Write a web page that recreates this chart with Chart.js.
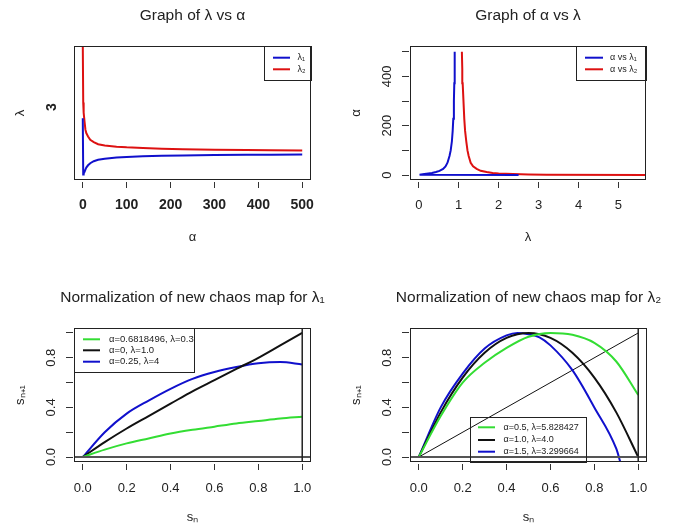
<!DOCTYPE html>
<html><head><meta charset="utf-8">
<script src="https://cdn.jsdelivr.net/npm/chart.js@4.4.1/dist/chart.umd.min.js"></script>
<style>
html,body{margin:0;padding:0;background:#fff;}
#wrap{position:relative;width:674px;height:526px;overflow:hidden;background:#fff;}
#wrap canvas{position:absolute;left:0;top:0;}
</style></head><body>
<div id="wrap">
<canvas id="c1" width="674" height="526"></canvas>
<canvas id="c2" width="674" height="526"></canvas>
<canvas id="c3" width="674" height="526"></canvas>
<canvas id="c4" width="674" height="526"></canvas>
</div>
<script>
// ---------- DATA ----------
// Top panels: lambda1 and lambda2 as functions of alpha
const alphaValues   = [0, 1, 2, 4, 6, 8, 12, 17, 25, 35, 50, 77, 100, 137, 180, 228, 300, 372, 430, 500];
const lambda1Values = [2.5, 0.02, 0.06, 0.14, 0.24, 0.33, 0.43, 0.52, 0.61, 0.67, 0.72, 0.77, 0.80, 0.83, 0.85, 0.865, 0.88, 0.89, 0.895, 0.905];
const lambda2Values = [5.8, 3.2, 2.75, 2.36, 2.0, 1.85, 1.7, 1.55, 1.45, 1.36, 1.3, 1.25, 1.22, 1.19, 1.16, 1.14, 1.12, 1.1, 1.09, 1.08];

// Bottom panels: s_n -> s_{n+1}
const snValues = [0, 0.1, 0.2, 0.3, 0.4, 0.5, 0.6, 0.7, 0.8, 0.9, 1.0];
const map1Green = [0, 0.06, 0.11, 0.15, 0.19, 0.22, 0.245, 0.27, 0.29, 0.31, 0.325];
const map1Black = [0, 0.12, 0.23, 0.33, 0.43, 0.53, 0.62, 0.71, 0.80, 0.90, 1.0];
const map1Blue  = [0, 0.20, 0.35, 0.455, 0.55, 0.63, 0.685, 0.725, 0.755, 0.765, 0.745];

const map2Green = [0, 0.33, 0.60, 0.76, 0.88, 0.97, 1.0, 0.985, 0.92, 0.77, 0.50];
const map2Black = [0, 0.36, 0.64, 0.84, 0.96, 1.0, 0.96, 0.84, 0.64, 0.36, 0.0];
const map2BlueSn = [0, 0.1, 0.2, 0.3, 0.4, 0.45, 0.5, 0.55, 0.6, 0.7, 0.8, 0.9, 0.92];
const map2Blue   = [0, 0.40, 0.672, 0.874, 0.98, 1.0, 0.99, 0.965, 0.90, 0.70, 0.40, 0.067, -0.05];
const diagonalValues = [0, 1];

// Labels
const legend1Labels = ['λ₁', 'λ₂'];
const legend2Labels = ['α vs λ₁', 'α vs λ₂'];
const legend3Labels = ['α=0.6818496, λ=0.3', 'α=0, λ=1.0', 'α=0.25, λ=4'];
const legend4Labels = ['α=0.5, λ=5.828427', 'α=1.0, λ=4.0', 'α=1.5, λ=3.299664'];

// Ticks
const p1xTicks = [0, 100, 200, 300, 400, 500];
const p1yTicks = [3];
const p2xTicks = [0, 1, 2, 3, 4, 5];
const p2yTicks = [0, 100, 200, 300, 400, 500];
const p2yTickLabels = ['0', '', '200', '', '400', ''];
const snTicks = [0, 0.2, 0.4, 0.6, 0.8, 1.0];
const snTickLabels = ['0.0', '0.2', '0.4', '0.6', '0.8', '1.0'];
const sn1TickLabels = ['0.0', '', '0.4', '', '0.8', ''];

// ---------- STYLE ----------
const BLUE = '#1010cc', RED = '#dd1111', GREEN = '#33dd33', BLACK = '#111111';
const TXT = '#222222';
const W = 674, H = 526, YW = 64;
Chart.defaults.font.family = '"Liberation Sans", Arial, sans-serif';
Chart.defaults.color = TXT;
Chart.defaults.animation = false;

function xy(xs, ys) { return xs.map((x, i) => ({x: x, y: ys[i]})); }

const rPlot = {
  id: 'rPlot',
  afterLayout(chart) {
    const t = chart.titleBlock;
    if (t) {
      const c = (chart.chartArea.left + chart.chartArea.right) / 2;
      t.left = c - 200; t.right = c + 200; t.width = 400;
    }
  },
  afterDatasetsDraw(chart, args, o) {
    const ctx = chart.ctx, a = chart.chartArea, xs = chart.scales.x, ys = chart.scales.y;
    ctx.save();
    ctx.beginPath(); ctx.rect(a.left, a.top, a.right - a.left, a.bottom - a.top); ctx.clip();
    (o.hlines || []).forEach(h => {
      const py = ys.getPixelForValue(h.value);
      ctx.strokeStyle = h.color; ctx.lineWidth = h.width;
      ctx.beginPath(); ctx.moveTo(a.left, py); ctx.lineTo(a.right, py); ctx.stroke();
    });
    (o.vlines || []).forEach(v => {
      const px = xs.getPixelForValue(v.value);
      ctx.strokeStyle = v.color; ctx.lineWidth = v.width;
      ctx.beginPath(); ctx.moveTo(px, a.top); ctx.lineTo(px, a.bottom); ctx.stroke();
    });
    ctx.restore();
    ctx.save();
    ctx.strokeStyle = TXT; ctx.lineWidth = 1;
    ctx.strokeRect(Math.round(a.left) + 0.5, Math.round(a.top) + 0.5, Math.round(a.right - a.left) - 1, Math.round(a.bottom - a.top) - 1);
    const L = o.legend;
    if (L) {
      ctx.strokeRect(L.left + 0.5, L.top + 0.5, L.right - L.left, L.bottom - L.top);
      const items = chart.data.datasets.filter(d => !d.noLegend);
      items.forEach((d, i) => {
        const yy = L.rows[i];
        ctx.strokeStyle = d.borderColor; ctx.lineWidth = 2;
        ctx.beginPath(); ctx.moveTo(L.x1, yy); ctx.lineTo(L.x2, yy); ctx.stroke();
        ctx.fillStyle = TXT; ctx.font = L.font; ctx.textBaseline = 'middle'; ctx.textAlign = 'left';
        ctx.fillText(d.label, L.textX, yy);
      });
    }
    ctx.restore();
  }
};

function lineDs(label, data, color, smooth, extra) {
  return Object.assign({label: label, data: data, borderColor: color, backgroundColor: color,
    showLine: true, pointRadius: 0, borderWidth: 2, fill: false,
    cubicInterpolationMode: smooth ? 'monotone' : 'default', tension: 0}, extra || {});
}

function makeChart(id, cfg) {
  const b = cfg.box;
  const scaleCommon = (tickVals, tickLabels, fontSpec, pad, extra) => Object.assign({
    type: 'linear',
    afterBuildTicks: s => { s.ticks = tickVals.map(v => ({value: v})); },
    ticks: {autoSkip: false, font: fontSpec, padding: pad, color: TXT,
      callback: (v, i) => tickLabels[i]},
    grid: {display: true, drawOnChartArea: false, drawTicks: true, tickLength: 8, color: '#333', lineWidth: 1},
    border: {display: true, width: 3, color: 'rgba(0,0,0,0)'}
  }, extra);
  const xs = scaleCommon(cfg.xTicks, cfg.xTickLabels, cfg.tickFont, cfg.xPad, {
    min: cfg.xMin, max: cfg.xMax, position: 'bottom',
    afterFit: s => { s.height = cfg.xh; },
    title: {display: true, text: cfg.xTitle, font: {size: 13}, color: TXT, padding: {top: 0, bottom: 0}}
  });
  xs.ticks.maxRotation = 0; xs.ticks.minRotation = 0;
  const ys = scaleCommon(cfg.yTicks, cfg.yTickLabels, cfg.tickFont, cfg.yPad, {
    min: cfg.yMin, max: cfg.yMax, position: 'left',
    afterFit: s => { s.width = YW; },
    title: {display: true, text: cfg.yTitle, font: {size: 13}, color: TXT, padding: {top: 2.5, bottom: 0}}
  });
  ys.ticks.minRotation = 90; ys.ticks.maxRotation = 90; ys.ticks.crossAlign = 'center';
  if (cfg.hideYTickMarks) ys.grid.color = 'rgba(0,0,0,0)';
  return new Chart(document.getElementById(id), {
    type: 'scatter',
    data: {datasets: cfg.datasets},
    plugins: [rPlot],
    options: {
      responsive: false, animation: false, events: [],
      layout: {padding: {left: b.l - YW, right: W - b.r, top: cfg.titleTop, bottom: H - b.b - cfg.xh}},
      plugins: {
        legend: {display: false}, tooltip: {enabled: false},
        title: {display: true, text: cfg.title, color: TXT, font: {size: 15.5, weight: 'normal'},
          padding: {top: 0, bottom: b.t - cfg.titleTop - 18.6}},
        rPlot: {hlines: cfg.hlines, vlines: cfg.vlines, legend: cfg.legend}
      },
      scales: {x: xs, y: ys}
    }
  });
}

const boldTick = {size: 14, weight: 'bold'};
const normTick = {size: 13};

// Panel 1
makeChart('c1', {
  box: {l: 74, t: 46, r: 311, b: 180}, titleTop: 6, xh: 65.5,
  title: 'Graph of λ vs α', xTitle: 'α', yTitle: 'λ',
  xMin: -20, xMax: 520, yMin: -0.219, yMax: 5.69,
  xTicks: p1xTicks, xTickLabels: p1xTicks.map(String), yTicks: p1yTicks, yTickLabels: p1yTicks.map(String),
  tickFont: boldTick, xPad: 9, yPad: 10.4, hideYTickMarks: true,
  datasets: [
    lineDs(legend1Labels[0], xy(alphaValues, lambda1Values), BLUE, false),
    lineDs(legend1Labels[1], xy(alphaValues, lambda2Values), RED, false)
  ],
  legend: {left: 264, top: 46, right: 311, bottom: 80, x1: 273, x2: 290, textX: 297.5, rows: [57.7, 69.3], font: '9px "Liberation Sans", Arial, sans-serif'}
});

// Panel 2
makeChart('c2', {
  box: {l: 410, t: 46, r: 646, b: 180}, titleTop: 6, xh: 65.5,
  title: 'Graph of α vs λ', xTitle: 'λ', yTitle: 'α',
  xMin: -0.219, xMax: 5.69, yMin: -20.2, yMax: 523.6,
  xTicks: p2xTicks, xTickLabels: p2xTicks.map(String), yTicks: p2yTicks, yTickLabels: p2yTickLabels,
  tickFont: normTick, xPad: 9.6, yPad: 4.2,
  datasets: [
    lineDs(legend2Labels[0], xy(lambda1Values, alphaValues), BLUE, false),
    lineDs(legend2Labels[1], xy(lambda2Values, alphaValues), RED, false)
  ],
  legend: {left: 576, top: 46, right: 646, bottom: 80, x1: 585, x2: 603, textX: 610, rows: [57.7, 69.3], font: '9px "Liberation Sans", Arial, sans-serif'}
});

// Panel 3
makeChart('c3', {
  box: {l: 74, t: 328, r: 311, b: 462}, titleTop: 288.5, xh: 63.7,
  title: 'Normalization of new chaos map for λ₁', xTitle: 'sₙ', yTitle: 'sₙ₊₁',
  xMin: -0.04, xMax: 1.04, yMin: -0.04, yMax: 1.04,
  xTicks: snTicks, xTickLabels: snTickLabels, yTicks: snTicks, yTickLabels: sn1TickLabels,
  tickFont: normTick, xPad: 10.8, yPad: 5.3,
  datasets: [
    lineDs(legend3Labels[0], xy(snValues, map1Green), GREEN, true),
    lineDs(legend3Labels[1], xy(snValues, map1Black), BLACK, true),
    lineDs(legend3Labels[2], xy(snValues, map1Blue), BLUE, true)
  ],
  hlines: [{value: 0, color: '#555', width: 2}],
  vlines: [{value: 1, color: '#222', width: 1.5}],
  legend: {left: 74, top: 328, right: 194, bottom: 372, x1: 83, x2: 100, textX: 109, rows: [339.3, 350.3, 361.7], font: '9.5px "Liberation Sans", Arial, sans-serif'}
});

// Panel 4
makeChart('c4', {
  box: {l: 410, t: 328, r: 647, b: 462}, titleTop: 288.5, xh: 63.7,
  title: 'Normalization of new chaos map for λ₂', xTitle: 'sₙ', yTitle: 'sₙ₊₁',
  xMin: -0.04, xMax: 1.04, yMin: -0.04, yMax: 1.04,
  xTicks: snTicks, xTickLabels: snTickLabels, yTicks: snTicks, yTickLabels: sn1TickLabels,
  tickFont: normTick, xPad: 10.8, yPad: 6,
  datasets: [
    lineDs(legend4Labels[0], xy(snValues, map2Green), GREEN, true),
    lineDs(legend4Labels[1], xy(snValues, map2Black), BLACK, true),
    lineDs(legend4Labels[2], xy(map2BlueSn, map2Blue), BLUE, true),
    lineDs('', xy(diagonalValues, diagonalValues), BLACK, false, {borderWidth: 1, noLegend: true})
  ],
  hlines: [{value: 0, color: '#555', width: 2}],
  vlines: [{value: 1, color: '#222', width: 1.5}],
  legend: {left: 470, top: 417, right: 586, bottom: 462, x1: 478, x2: 495, textX: 503.5, rows: [427.3, 440, 451.7], font: '9px "Liberation Sans", Arial, sans-serif'}
});
</script>
</body></html>
